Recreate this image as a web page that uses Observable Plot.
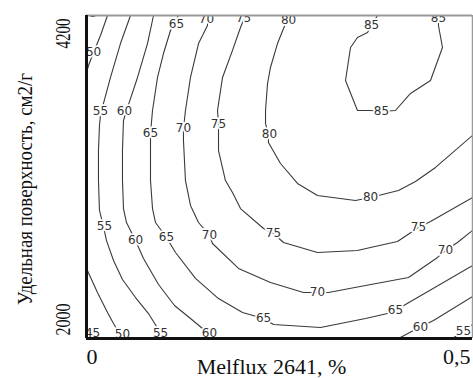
<!DOCTYPE html>
<html>
<head>
<meta charset="utf-8">
<script src="https://cdn.jsdelivr.net/npm/d3@7"></script>
<script src="https://cdn.jsdelivr.net/npm/@observablehq/plot@0.6"></script>
<style>
  body { margin: 0; background: #fff; }
</style>
</head>
<body>
<div id="chart"></div>
<script>
// Response surface: strength vs Melflux 2641 dosage (%) and specific surface (cm2/g).
// Each isoline is a list of [melflux %, specific surface] points.
const xDomain = [0, 0.5];
const yDomain = [2000, 4200];
const xTicks = [0, 0.5];
const yTicks = [2000, 4200];

const c50a = [[0.0272,4200],[0.0181,4064],[0.0091,3948],[0.0026,3859],[0,3812]];
const c50b = [[0,2477],[0.0142,2313],[0.0272,2177],[0.0350,2102],[0.0427,2034],[0.0466,2000]];
const c55a = [[0.0570,4200],[0.0440,4009],[0.0311,3778],[0.0220,3601],[0.0181,3519],[0.0168,3451],
  [0.0155,3280],[0.0155,3076],[0.0168,2872],[0.0220,2763],[0.0259,2667],[0.0350,2531],[0.0466,2402],
  [0.0635,2279],[0.0803,2170],[0.0907,2082],[0.0959,2000]];
const c55b = [[0.4741,2000],[0.5,2095]];
const c60a = [[0.0868,4200],[0.0790,4009],[0.0661,3778],[0.0531,3573],[0.0479,3485],[0.0466,3280],
  [0.0466,3076],[0.0479,2885],[0.0518,2790],[0.0635,2667],[0.0738,2545],[0.0933,2368],[0.1140,2225],
  [0.1347,2136],[0.1503,2068],[0.1606,2000]];
const c60b = [[0.4041,2000],[0.4236,2054],[0.4495,2123],[0.5,2286]];
const c65 = [[0.1192,4200],[0.1088,4098],[0.0997,3941],[0.0920,3778],[0.0855,3553],[0.0829,3396],
  [0.0829,3328],[0.0829,3076],[0.0855,2885],[0.0894,2790],[0.1036,2688],[0.1153,2586],[0.1412,2409],
  [0.1710,2272],[0.2021,2177],[0.2293,2136],[0.2422,2095],[0.3031,2075],[0.3614,2136],[0.3899,2170],
  [0.4002,2191],[0.4132,2232],[0.5,2497]];
const c70 = [[0.1580,4200],[0.1567,4132],[0.1451,4009],[0.1347,3778],[0.1282,3553],[0.1256,3430],
  [0.1256,3349],[0.1282,3076],[0.1347,2906],[0.1451,2790],[0.1593,2702],[0.1632,2647],[0.1969,2477],
  [0.2383,2381],[0.2811,2313],[0.2992,2313],[0.3135,2313],[0.3614,2361],[0.4171,2415],[0.4547,2552],
  [0.4650,2599],[0.4805,2654],[0.5,2736]];
const c75 = [[0.2060,4200],[0.1995,4118],[0.1891,3962],[0.1762,3778],[0.1697,3553],[0.1710,3458],
  [0.1710,3280],[0.1800,3076],[0.1891,2994],[0.1995,2885],[0.2293,2749],[0.2422,2715],[0.2552,2654],
  [0.2992,2586],[0.3510,2599],[0.3679,2620],[0.4028,2661],[0.4300,2756],[0.4456,2797],[0.5,2960]];
const c80 = [[0.2629,4200],[0.2552,4111],[0.2474,4009],[0.2383,3846],[0.2345,3737],[0.2319,3553],
  [0.2319,3464],[0.2357,3389],[0.2357,3335],[0.2513,3192],[0.2733,3056],[0.2992,2974],[0.3484,2940],
  [0.3679,2960],[0.3834,2981],[0.4041,3008],[0.4262,3069],[0.4521,3165],[0.5,3383]];
const c85 = [[0.3769,4200],[0.3692,4132],[0.3640,4084],[0.3510,4050],[0.3420,3982],[0.3355,3757],
  [0.3510,3553],[0.3679,3553],[0.3821,3546],[0.4002,3553],[0.4197,3669],[0.4456,3757],[0.4611,3982],
  [0.4559,4132],[0.4559,4200]];

// [level, melflux %, specific surface] for every inline isoline label
const contourLabels = [
  [45,0.0039,4214],[45,0.0078,2034],
  [50,0.0091,3948],[50,0.0466,2027],
  [55,0.0181,3546],[55,0.0233,2763],[55,0.0959,2034],[55,0.4883,2048],
  [60,0.0492,3546],[60,0.0635,2667],[60,0.1593,2034],[60,0.4326,2075],
  [65,0.1166,4139],[65,0.0829,3396],[65,0.1036,2688],[65,0.2293,2136],[65,0.4002,2191],
  [70,0.1554,4173],[70,0.1256,3430],[70,0.1593,2702],[70,0.2992,2313],[70,0.4650,2599],
  [75,0.2034,4180],[75,0.1710,3458],[75,0.2422,2715],[75,0.4300,2756],
  [80,0.2617,4166],[80,0.2370,3389],[80,0.3679,2960],
  [85,0.3692,4132],[85,0.3821,3546],[85,0.4559,4180]
];

const xTitle = "Melflux 2641, %";
const yTitle = "Удельная поверхность, см2/г";

const isolines = [
  [50, c50a], [50, c50b], [55, c55a], [55, c55b], [60, c60a], [60, c60b],
  [65, c65], [70, c70], [75, c75], [80, c80], [85, c85]
];
const lineRows = isolines.flatMap(([level, pts], id) =>
  pts.map(([x, y]) => ({id, level, x, y})));
const labelRows = contourLabels.map(([level, x, y]) => ({level, x, y}));

const fmt = d3.formatLocale({decimal: ",", thousands: " ", grouping: [3], currency: ["", ""]}).format("~g");
const serif = "'Liberation Serif', 'Times New Roman', serif";

const chart = Plot.plot({
  width: 473,
  height: 378,
  marginLeft: 86,
  marginRight: 1,
  marginTop: 15,
  marginBottom: 40,
  style: {background: "#fff", color: "#111"},
  x: {domain: xDomain, label: null},
  y: {domain: yDomain, label: null, axis: null},
  marks: [
    Plot.line(lineRows, {x: "x", y: "y", z: "id", stroke: "#3a3a3a", strokeWidth: 1.1, clip: true}),
    Plot.text(labelRows, {
      x: "x", y: "y", text: d => String(d.level),
      fontSize: 12, fontFamily: "'DejaVu Sans', Verdana, sans-serif",
      fill: "#333", stroke: "#fff", strokeWidth: 3.5, clip: true
    }),
    // frame
    Plot.ruleY([yDomain[1]], {stroke: "#9a9a9a", strokeWidth: 2}),
    Plot.ruleX([xDomain[1]], {stroke: "#9a9a9a", strokeWidth: 1.5}),
    Plot.ruleX([xDomain[0]], {stroke: "#111", strokeWidth: 3}),
    Plot.ruleY([yDomain[0]], {stroke: "#111", strokeWidth: 3}),
    // x tick labels, pinned to the ends of the axis
    Plot.axisX({ticks: [xTicks[0]], tickSize: 0, tickPadding: 10, textAnchor: "start",
      tickFormat: fmt, fontSize: 22, fontFamily: serif, label: null}),
    Plot.axisX({ticks: [xTicks[1]], tickSize: 0, tickPadding: 10, textAnchor: "end", dx: -2,
      tickFormat: fmt, fontSize: 22, fontFamily: serif, label: null}),
    // y tick labels, rotated
    Plot.text([yTicks[1]], {y: d => d, text: d => String(d), frameAnchor: "left", rotate: -90,
      textAnchor: "end", lineAnchor: "middle", dx: -23.5, dy: 3,
      fontSize: 22, fontFamily: serif}),
    Plot.text([yTicks[0]], {y: d => d, text: d => String(d), frameAnchor: "left", rotate: -90,
      textAnchor: "start", lineAnchor: "middle", dx: -23.5, dy: -3,
      fontSize: 22, fontFamily: serif}),
    // axis titles
    Plot.text([xTitle], {frameAnchor: "bottom", textAnchor: "middle", lineAnchor: "middle", dx: -8, dy: 28,
      fontSize: 22, fontFamily: serif}),
    Plot.text([yTitle], {frameAnchor: "left", textAnchor: "middle", rotate: -90, lineAnchor: "middle",
      dx: -62, dy: 12, fontSize: 22, fontFamily: serif})
  ]
});

// the rotated labels are set in a condensed width
const condensed = new Map([[String(yTicks[0]), 32], [String(yTicks[1]), 30], [yTitle, 232]]);
chart.querySelectorAll("text").forEach(t => {
  const w = condensed.get(t.textContent);
  if (w) {
    t.setAttribute("textLength", w);
    t.setAttribute("lengthAdjust", "spacingAndGlyphs");
  }
});

document.getElementById("chart").append(chart);
</script>
</body>
</html>
